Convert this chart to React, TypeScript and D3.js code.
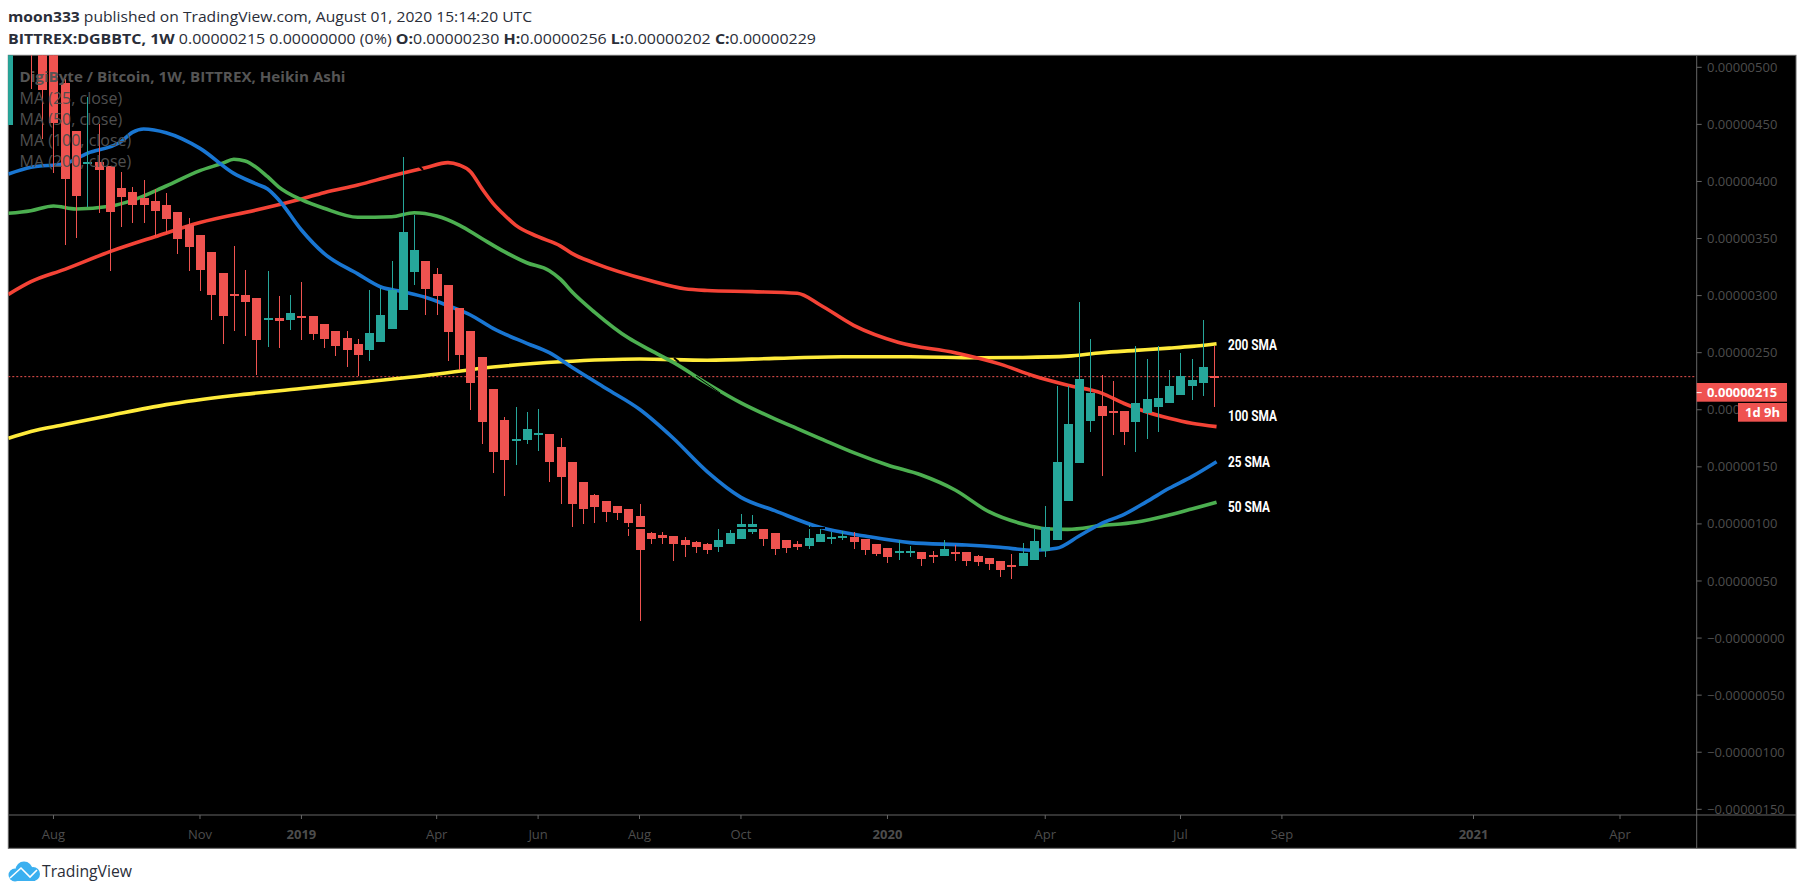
import React from "react";
import * as d3 from "d3";

// Prices are in units of 1e-8 BTC (500 = 0.00000500)
const weekOpen = [449.5,570,560,540,525,486.3,444.2,415.5,417,413.5,394.3,390.8,385.5,382.9,379.4,373.2,361.9,353.1,338.2,319.8,301.4,300.5,298,278.6,280.4,278.6,282.1,282.1,275.1,269,262.9,257.6,252.3,259.3,270.7,287.4,320.7,330.3,318.9,309.3,289.1,269,246.2,218.2,191,173.5,173.5,177.9,178.8,167.4,154.2,136.7,125.3,120,115.7,113,106.9,92,90.3,89.4,85.9,84.1,82.4,79.8,82.4,86.8,92.9,95.5,92,85.9,82.4,80.6,84.1,86.8,87.6,88.5,86.8,82.4,78.9,74.5,74.5,75.4,72.8,71.9,75.4,75.4,71.9,70.1,67.5,64,63.1,68.4,76.3,85.9,120.1,153.4,190.2,203.3,198.9,198.9,189.3,197.2,202.4,205.9,212.9,220.8,223.4,230];
const weekHigh = [530,590,590,560,540,490,444.2,474.3,450.3,413.5,408.3,395.1,401.3,393.4,389.9,373.2,368,353.1,338.2,319.8,343.5,322.4,298,321.6,299.7,300.5,311.9,282.1,275.1,269,269,262,304.9,306.6,330.3,421.1,370.6,330.3,324.2,309.3,289.1,269,246.2,218.2,193.6,202.4,198,200.6,178.8,175.2,154.2,136.7,126.2,120,115.7,113,117.4,92.9,92.9,89.4,88.5,85,83.3,95.5,94.7,108.7,107.8,95.5,92,85.9,85,99,95.5,92.9,93.8,92.9,86.8,82.4,78.9,85.9,80.6,75.4,76.3,85.9,81.5,75.4,72.8,70.1,67.5,73.6,83.3,95.5,115.7,220.8,220.8,294.4,262,230.4,225.2,198.9,255.8,244.5,255.8,234.8,249.7,244.5,278.6,256];
const weekLow = [449.5,530,480.7,437,407.7,344.3,350.8,378,372.7,321.8,360.4,363.6,363.6,351.3,354.6,336.4,321.6,304,278.6,257.6,269,264.6,230.4,255,254.1,269.9,261.1,261.1,254.1,247.1,237.4,229.6,242.7,259.3,270.7,287.4,309.3,283,283,242.7,234.8,199.8,170,144.6,124.4,151.6,170,163.9,136.7,117.4,97.3,99.9,100.8,101.7,103.4,89.4,15,82.4,82.4,67.5,71,74.5,73.6,75.4,82.4,86.8,91.1,80.6,72.8,74.5,77.1,78,84.1,82.4,85.9,78,72.8,71.9,65.8,68.4,71,63.1,65.8,71.9,67.5,63.1,63.1,59.6,53.5,51.7,63.1,68.4,71,85.9,120.1,153.4,180.5,142,177.9,169.1,163,174.4,180.5,205.9,212.9,208.6,212,202];
const weekClose = [525,540,520,480,451.5,402.4,387.3,417,410,373.2,386.4,379.4,379.4,374.1,367.1,349.6,342.6,322.4,300.5,282.1,299.7,294.4,261.1,280.4,277.8,284.8,281.2,266.3,262,255.8,252.3,248,267.2,283,304.9,355.7,339.9,305.8,299.6,268.1,248,223.4,189.3,163,156,174.4,183.1,179.6,154.2,141.1,117.4,113,114.8,110.4,109.6,100.8,77.1,86.8,87.6,82.4,81.5,79.8,77.1,85.9,92,99.9,99.9,86.8,78,78.9,79.8,87.6,91.2,88.5,89.4,84.1,77.1,73.6,71,76.3,76.3,69.3,71,78,74.5,67.5,66.6,64.9,59.6,62.2,74.5,85,97.3,154.2,187.5,227,214.7,194.5,198,180.5,205.9,209.4,210.3,220.8,229.3,226.1,237.4,229];

const sma25Weeks = [0,2,5,7,10,11,12,14,17,20,22,23,24,26,28,31,33,35,37,39,41,43,46,48,50,53,56,59,62,65,68,72,76,80,85,88,91,93,95,97,99,101,103,105,107.2];
const sma25Values = [406.5,412.4,415.6,424.6,434.9,443,446,442.7,429,407.1,397.8,393.4,383.8,357.5,337,319,307.8,303.4,298.5,291.2,283,271.3,258.2,250,237.2,218.8,200.4,175,145.8,123.3,111.6,97,89.4,83.6,81.5,79.5,76.9,78.6,89.4,100.5,108.4,119.5,131.2,141.4,154.5];
const sma50Weeks = [0,2,4,6,9,11,14,17,19,20,21,23,24,26,28,31,34,36,38,40,42,44,46,48,49,50,52,55,57,59,62,65,68,70,72,75,78,81,84,87,90,92,94,97,100,103,105,107.2];
const sma50Values = [372.1,374.4,378.5,375.9,378.2,383.4,396,409.5,415.9,419.4,418,404.2,395.1,384,376.5,368.6,369.1,372.6,369.7,361.8,350,338.5,328.8,321.8,314.2,303.4,285.6,263,252,241.5,223,206,192,183.5,175,162.4,151.6,142.8,129.7,110.7,99.9,95.8,95.2,98.5,101.4,107.8,113,118.9];
const sma100Weeks = [0,2,5,9,13,17,22,26,28,31,34,37,39,40,41,42,43,44,45,47,49,50,52,57,60,62,66,70,72,75,79,84,88,91,94,97,99,101,103,105,107.2];
const sma100Values = [301.1,312.2,323,338.5,351.6,364,375,384.6,390.2,396.9,404.8,412,416.5,414.4,408.6,394,380.8,370.6,361.8,351.6,343.4,337,328.5,313,306,304.5,303.5,302,292,274,259,250,240,229.6,221.5,214.6,205.5,198,192.5,188.1,185.2];
const sma200Weeks = [0,2,5,9,14,20,26,31,37,43,49,56,62,68,74,80,86,90,94,97,100,103,105,107.2];
const sma200Values = [175,181,187,195,204.5,212.5,218.6,223.8,230,237.4,242,244.5,243.4,245,246.5,246.5,245.5,245.8,247,250,252,254,255.5,257.9];

const yTickValues = [500,450,400,350,300,250,200,150,100,50,0,-50,-100,-150];
const yTickLabels = ["0.00000500","0.00000450","0.00000400","0.00000350","0.00000300","0.00000250","0.00000200","0.00000150","0.00000100","0.00000050","\u22120.00000000","\u22120.00000050","\u22120.00000100","\u22120.00000150"];
const xTickWeeks = [4,17,26,38,47,56,65,78,92,104,113,130,143];
const xTickLabels = ["Aug","Nov","2019","Apr","Jun","Aug","Oct","2020","Apr","Jul","Sep","2021","Apr"];
const xTickBold = ["2019","2020","2021"];
const legendRows = ["MA (25, close)","MA (50, close)","MA (100, close)","MA (200, close)"];

const lastClose = 229;
const lastValue = 215;

const paneLeft = 8.3, paneRight = 1696.7, paneTop = 55.3, paneBottom = 815, frameBottom = 848.3, frameRight = 1796;
const TEAL = "#26a69a", RED = "#ef5350";
const AXIS = "#666666", AXIS_TEXT = "#4d4d4d";
const FONT = "'Open Sans', sans-serif";

const x = d3.scaleLinear().domain([0, 107]).range([8.4, 1214.3]);
const y = d3.scaleLinear().domain([500, -150]).range([67.3, 809.3]);

function maPath(weeks: number[], values: number[]) {
  const gen = d3.line<number>()
    .x((_, i) => x(weeks[i]))
    .y((v) => y(v))
    .curve(d3.curveMonotoneX);
  return gen(values) || "";
}

const smaLines = [
  { w: sma200Weeks, v: sma200Values, c: "#ffeb3b", label: "200 SMA", ly: 345, lw: 49 },
  { w: sma100Weeks, v: sma100Values, c: "#f44336", label: "100 SMA", ly: 416, lw: 49 },
  { w: sma50Weeks, v: sma50Values, c: "#4caf50", label: "50 SMA", ly: 507, lw: 42 },
  { w: sma25Weeks, v: sma25Values, c: "#1976d2", label: "25 SMA", ly: 461.7, lw: 42 },
];

export default function App() {
  return (
    <svg width={1805} height={895} style={{ position: "absolute", left: 0, top: 0, display: "block", background: "#fff" }}>
      <defs>
        <clipPath id="pane">
          <rect x={paneLeft} y={paneTop} width={paneRight - paneLeft} height={paneBottom - paneTop} />
        </clipPath>
      </defs>

      <text x={8} y={22} fontFamily={FONT} fontSize={15} fill="#2a2e39" textLength={524} lengthAdjust="spacingAndGlyphs">
        <tspan fontWeight={700}>moon333</tspan> published on TradingView.com, August 01, 2020 15:14:20 UTC
      </text>
      <text x={8} y={44} fontFamily={FONT} fontSize={15} fill="#2a2e39" textLength={808} lengthAdjust="spacingAndGlyphs">
        <tspan fontWeight={700}>BITTREX:DGBBTC, 1W</tspan> 0.00000215 0.00000000 (0%) <tspan fontWeight={700}>O:</tspan>0.00000230 <tspan fontWeight={700}>H:</tspan>0.00000256 <tspan fontWeight={700}>L:</tspan>0.00000202 <tspan fontWeight={700}>C:</tspan>0.00000229
      </text>

      <rect x={paneLeft} y={paneTop} width={frameRight - paneLeft} height={frameBottom - paneTop} fill="#000" stroke={AXIS} strokeWidth={1} />

      <g clipPath="url(#pane)">
        <line x1={paneLeft} x2={paneRight} y1={y(lastClose)} y2={y(lastClose)} stroke={RED} strokeWidth={1} strokeDasharray="2 2" />
        {smaLines.map((s) => (
          <path key={s.label} d={maPath(s.w, s.v)} fill="none" stroke={s.c} strokeWidth={3.6} strokeLinejoin="round" />
        ))}
        {weekClose.map((close, i) => {
          const open = weekOpen[i];
          const color = close >= open ? TEAL : RED;
          const top = y(Math.max(open, close));
          const bottom = y(Math.min(open, close));
          const cx = Math.round(x(i));
          return (
            <g key={i} shapeRendering="crispEdges" fill={color} stroke="none">
              <rect x={cx - 0.5} y={y(weekHigh[i])} width={1} height={y(weekLow[i]) - y(weekHigh[i])} />
              <rect x={cx - 4.5} y={top} width={9} height={Math.max(2, bottom - top)} />
            </g>
          );
        })}
        <g stroke="#000" strokeWidth={2} fill="none">
          <line x1={625} x2={825} y1={528} y2={528} />
          <line x1={419} x2={423} y1={166} y2={170} />
          <line x1={674} x2={679} y1={358} y2={362} />
          <line x1={696} x2={720} y1={376} y2={393} strokeWidth={1} />
        </g>
      </g>

      {smaLines.map((s) => (
        <text key={s.label} x={1228} y={s.ly} dy="0.35em" fontFamily="'Liberation Sans Narrow','Roboto',sans-serif" fontWeight={700} fontSize={14} fill="#fff" textLength={s.lw} lengthAdjust="spacingAndGlyphs">
          {s.label}
        </text>
      ))}

      <g fontFamily={FONT} fill="#555555">
        <text x={19.5} y={76.7} dy="0.35em" fontSize={15} fontWeight={700} textLength={326} lengthAdjust="spacingAndGlyphs">DigiByte / Bitcoin, 1W, BITTREX, Heikin Ashi</text>
        {legendRows.map((t, i) => (
          <text key={t} x={19.5} y={98 + i * 21} dy="0.35em" fontSize={16} fill="#4f4f4f">{t}</text>
        ))}
      </g>

      {/* axes */}
      <line x1={paneRight} x2={paneRight} y1={paneTop} y2={frameBottom} stroke={AXIS} />
      <line x1={paneLeft} x2={frameRight} y1={paneBottom} y2={paneBottom} stroke={AXIS} />
      {yTickValues.map((v, i) => (
        <g key={v}>
          <line x1={paneRight} x2={paneRight + 5} y1={y(v)} y2={y(v)} stroke={AXIS} />
          <text x={1707} y={y(v)} dy="0.35em" fontFamily={FONT} fontSize={13} fill={AXIS_TEXT}>{yTickLabels[i]}</text>
        </g>
      ))}
      {xTickWeeks.map((w, i) => (
        <g key={w}>
          <line x1={x(w)} x2={x(w)} y1={paneBottom} y2={paneBottom + 4} stroke={AXIS} />
          <text x={x(w)} y={834} dy="0.35em" textAnchor="middle" fontFamily={FONT} fontSize={13}
            fontWeight={xTickBold.includes(xTickLabels[i]) ? 700 : 400} fill={AXIS_TEXT}>{xTickLabels[i]}</text>
        </g>
      ))}

      {/* last price labels */}
      <rect x={paneRight} y={383} width={90.3} height={18.7} fill={RED} />
      <line x1={paneRight} x2={paneRight + 5} y1={y(lastValue)} y2={y(lastValue)} stroke="#fff" />
      <text x={1707} y={y(lastValue)} dy="0.35em" fontFamily={FONT} fontSize={13} fontWeight={700} fill="#fff" textLength={70} lengthAdjust="spacingAndGlyphs">0.00000215</text>
      <rect x={1738} y={403} width={49} height={18.7} fill={RED} />
      <text x={1762.5} y={412.3} dy="0.35em" textAnchor="middle" fontFamily={FONT} fontSize={13} fontWeight={700} fill="#fff">1d 9h</text>

      {/* footer logo */}
      <g>
        <circle cx={15} cy={875} r={6.5} fill="#3bb0f0" />
        <circle cx={24} cy={870} r={8.5} fill="#3bb0f0" />
        <circle cx={33} cy={874} r={7} fill="#3bb0f0" />
        <rect x={13} y={873} width={22} height={8} fill="#3bb0f0" />
        <polyline points="10,878 21,868 30,877 37,870" fill="none" stroke="#fff" strokeWidth={1.6} />
      </g>
      <text x={42} y={871} dy="0.35em" fontFamily={FONT} fontSize={16} fill="#2a2e39" textLength={90} lengthAdjust="spacingAndGlyphs">TradingView</text>
    </svg>
  );
}
